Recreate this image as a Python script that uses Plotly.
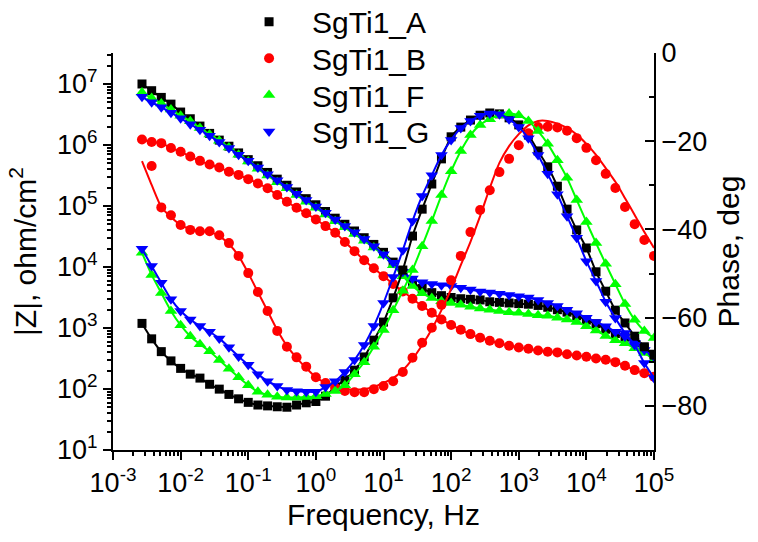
import plotly.graph_objects as go

# Frequency sweep, Hz (7 points per decade)
freq_hz = [0.002683, 0.003728, 0.005179, 0.007197,
           0.01, 0.01389, 0.01931, 0.02683, 0.03728, 0.05179, 0.07197,
           0.1, 0.1389, 0.1931, 0.2683, 0.3728, 0.5179, 0.7197,
           1, 1.389, 1.931, 2.683, 3.728, 5.179, 7.197,
           10, 13.89, 19.31, 26.83, 37.28, 51.79, 71.97,
           100, 138.9, 193.1, 268.3, 372.8, 517.9, 719.7,
           1000, 1389, 1931, 2683, 3728, 5179, 7197,
           10000, 13890, 19310, 26830, 37280, 51790, 71970,
           100000]

series_names = ["SgTi1_A", "SgTi1_B", "SgTi1_F", "SgTi1_G"]

# log10 |Z| (ohm/cm2)
logZ_A = [7.00, 6.89, 6.78, 6.67, 6.54, 6.43, 6.31, 6.19, 6.08, 5.98, 5.87, 5.76, 5.66, 5.55,
          5.44, 5.34, 5.23, 5.12, 5.02, 4.91, 4.80, 4.70, 4.59, 4.48, 4.37, 4.24, 4.08, 3.90,
          3.75, 3.65, 3.58, 3.53, 3.50, 3.48, 3.47, 3.46, 3.43, 3.42, 3.41, 3.40, 3.39, 3.37,
          3.34, 3.30, 3.26, 3.20, 3.13, 3.07, 2.98, 2.91, 2.85, 2.76, 2.67, 2.57]
logZ_B = [6.09, 6.05, 6.03, 5.95, 5.89, 5.81, 5.74, 5.68, 5.63, 5.56, 5.51, 5.44, 5.37, 5.29,
          5.18, 5.07, 4.97, 4.88, 4.78, 4.67, 4.56, 4.41, 4.26, 4.11, 3.98, 3.85, 3.72, 3.60,
          3.48, 3.36, 3.25, 3.14, 3.05, 2.97, 2.90, 2.84, 2.79, 2.75, 2.71, 2.68, 2.66, 2.63,
          2.61, 2.60, 2.57, 2.55, 2.53, 2.50, 2.48, 2.44, 2.38, 2.31, 2.26, 2.20]
logZ_F = [6.86, 6.77, 6.68, 6.58, 6.48, 6.39, 6.28, 6.17, 6.07, 5.96, 5.84, 5.73, 5.61, 5.50,
          5.39, 5.29, 5.18, 5.07, 4.97, 4.86, 4.75, 4.65, 4.54, 4.43, 4.32, 4.19, 4.03, 3.85,
          3.69, 3.57, 3.49, 3.44, 3.41, 3.38, 3.35, 3.32, 3.30, 3.28, 3.26, 3.25, 3.23, 3.21,
          3.20, 3.17, 3.14, 3.10, 3.03, 2.96, 2.87, 2.80, 2.75, 2.67, 2.59, 2.48]
logZ_G = [6.79, 6.70, 6.62, 6.53, 6.44, 6.34, 6.25, 6.15, 6.05, 5.95, 5.84, 5.74, 5.63, 5.52,
          5.42, 5.31, 5.20, 5.10, 4.99, 4.89, 4.78, 4.67, 4.57, 4.46, 4.34, 4.21, 4.07, 3.92,
          3.81, 3.75, 3.72, 3.70, 3.69, 3.66, 3.63, 3.60, 3.58, 3.56, 3.54, 3.52, 3.50, 3.46,
          3.41, 3.36, 3.30, 3.24, 3.17, 3.10, 3.03, 2.94, 2.86, 2.76, 2.64, 2.53]

# Phase angle, deg
phase_A = [-61.3, -64.8, -67.7, -69.8, -71.5, -72.8, -73.7, -75.1, -76.2, -77.4, -78.4, -79.2,
           -79.8, -80.0, -80.2, -80.3, -79.8, -79.3, -79.0, -77.8, -75.7, -74.1, -71.9, -68.9,
           -65.1, -61.0, -55.5, -49.2, -41.5, -35.4, -29.7, -24.0, -19.0, -16.8, -15.2, -14.1,
           -13.6, -13.8, -14.7, -16.3, -18.6, -22.2, -25.8, -30.2, -35.4, -40.1, -44.2, -49.6,
           -54.0, -58.3, -61.2, -64.2, -66.6, -68.5]
phase_B = [None, -25.6, -35.0, -36.8, -39.0, -40.1, -40.4, -40.4, -41.3, -43.1, -46.0, -49.9,
           -54.2, -58.5, -63.0, -66.6, -69.0, -71.1, -73.5, -74.8, -75.9, -76.6, -76.9, -76.9,
           -76.2, -75.5, -74.4, -72.3, -69.1, -65.7, -62.3, -57.1, -51.5, -46.0, -40.6, -35.6,
           -31.1, -27.0, -24.0, -20.9, -18.2, -16.8, -16.7, -16.9, -17.6, -19.3, -21.5, -24.3,
           -27.4, -30.6, -34.9, -38.8, -42.4, -46.0]
phase_F = [-45.3, -50.3, -54.4, -58.5, -61.7, -64.2, -66.0, -67.6, -69.6, -71.6, -73.5, -75.3,
           -76.8, -77.5, -77.9, -78.1, -78.1, -78.0, -77.8, -77.3, -76.6, -75.3, -72.8, -70.1,
           -66.6, -62.8, -58.3, -53.9, -49.2, -43.8, -38.1, -32.2, -26.8, -22.2, -18.6, -16.3,
           -15.0, -14.1, -13.7, -14.1, -15.4, -17.7, -20.6, -24.3, -28.3, -33.3, -38.3, -43.1,
           -47.8, -52.4, -56.9, -60.5, -63.0, -64.6]
phase_G = [-44.4, -48.3, -52.1, -55.8, -58.5, -60.4, -61.9, -63.2, -64.7, -66.7, -68.8, -70.7,
           -72.8, -74.4, -75.5, -76.4, -76.7, -76.8, -76.8, -75.7, -74.4, -72.3, -69.6, -66.2,
           -61.9, -56.7, -50.8, -44.7, -38.1, -32.4, -27.7, -23.1, -19.7, -17.0, -15.4, -14.2,
           -13.7, -13.9, -15.0, -16.8, -19.3, -23.1, -27.4, -32.0, -37.0, -41.9, -47.2, -51.7,
           -56.4, -60.1, -63.5, -66.2, -70.3, -73.7]

# Equivalent-circuit fit of the SgTi1_B phase
phase_B_fit = [-24.5, -29.9, -34.9, -37.2, -39.0, -39.9, -40.4, -40.6, -41.5, -43.3, -46.0, -49.9,
               -54.2, -58.5, -62.8, -66.4, -69.1, -71.4, -73.5, -74.8, -75.7, -76.2, -76.3, -76.2,
               -75.7, -74.8, -73.7, -71.9, -69.4, -66.2, -62.6, -58.3, -53.5, -48.1, -42.8, -37.0,
               -30.6, -24.9, -21.1, -18.4, -16.4, -15.4, -15.4, -16.0, -17.0, -18.5, -20.6, -23.1,
               -26.1, -29.2, -32.9, -36.7, -40.6, -44.2]

colors = ["#000000", "#ff0000", "#00ff00", "#0000ff"]
symbols = ["square", "circle", "triangle-up", "triangle-down"]
sizes = [9, 10, 11, 11]
legend_ids = ["legend", "legend2", "legend3", "legend4"]

logZ_all = [logZ_A, logZ_B, logZ_F, logZ_G]
phase_all = [phase_A, phase_B, phase_F, phase_G]
phase_fit_all = [phase_A, phase_B_fit, phase_F, phase_G]

fig = go.Figure()
for name, lz, ph, phf, c, s, ms, lg in zip(series_names, logZ_all, phase_all, phase_fit_all,
                                           colors, symbols, sizes, legend_ids):
    z = [10 ** v for v in lz]
    # fitted curves
    fig.add_trace(go.Scatter(x=freq_hz, y=z, mode="lines",
                             line=dict(color=c, width=2, shape="spline", smoothing=0.6),
                             showlegend=False, hoverinfo="skip"))
    fig.add_trace(go.Scatter(x=freq_hz, y=phf, mode="lines", yaxis="y2",
                             line=dict(color=c, width=2, shape="spline", smoothing=0.6),
                             showlegend=False, hoverinfo="skip", connectgaps=True))
    # measured points
    fig.add_trace(go.Scatter(x=freq_hz, y=z, mode="markers", name=name, legend=lg,
                             marker=dict(color=c, symbol=s, size=ms, line=dict(width=0))))
    fig.add_trace(go.Scatter(x=freq_hz, y=ph, mode="markers", yaxis="y2", showlegend=False,
                             marker=dict(color=c, symbol=s, size=ms, line=dict(width=0))))

font_family = "Arial, Liberation Sans, sans-serif"
xticks = [10.0 ** k for k in range(-3, 6)]
xtext = ["10<sup>%d</sup>" % k for k in range(-3, 6)]
yticks = [10.0 ** k for k in range(1, 8)]
ytext = ["10<sup>%d</sup>" % k for k in range(1, 8)]

# one single-entry legend per sample, stacked above the plot
legend_rows_y = [1.079, 0.987, 0.894, 0.802]
legend_layout = {}
for lg, ly in zip(legend_ids, legend_rows_y):
    legend_layout[lg] = dict(x=0.209, y=ly, xanchor="left", yanchor="middle",
                             bgcolor="rgba(0,0,0,0)", font=dict(size=30),
                             itemwidth=76, itemsizing="trace")

fig.update_layout(
    width=758, height=542,
    margin=dict(l=113, r=104, t=53, b=92, autoexpand=False),
    paper_bgcolor="white", plot_bgcolor="white",
    font=dict(family=font_family, size=27, color="black"),
    showlegend=True,
    xaxis=dict(type="log", range=[-3, 5], tickvals=xticks, ticktext=xtext,
               showline=True, linecolor="black", linewidth=2, mirror=False,
               ticks="outside", ticklen=8, tickwidth=2, tickcolor="black",
               minor=dict(ticks="outside", ticklen=4, tickwidth=1.5, tickcolor="black", dtick="D1"),
               showgrid=False, zeroline=False, automargin=False,
               title=dict(text="Frequency, Hz", font=dict(size=30), standoff=6)),
    yaxis=dict(type="log", range=[1, 7.508], tickvals=yticks, ticktext=ytext,
               showline=True, linecolor="black", linewidth=2,
               ticks="outside", ticklen=8, tickwidth=2, tickcolor="black",
               minor=dict(ticks="outside", ticklen=4, tickwidth=1.5, tickcolor="black", dtick="D1"),
               showgrid=False, zeroline=False, automargin=False,
               title=dict(text="|Z|, ohm/cm<sup>2</sup>", font=dict(size=30), standoff=12)),
    yaxis2=dict(overlaying="y", side="right", range=[-90, 0],
                tickvals=[-80, -60, -40, -20, 0],
                showline=True, linecolor="black", linewidth=2,
                ticks="inside", ticklen=9, tickwidth=2, tickcolor="black",
                minor=dict(ticks="inside", ticklen=5, tickwidth=2, tickcolor="black", dtick=10),
                showgrid=False, zeroline=False, automargin=False,
                title=dict(text="Phase, deg", font=dict(size=30), standoff=12)),
    **legend_layout,
)

fig.write_html("out.html")
